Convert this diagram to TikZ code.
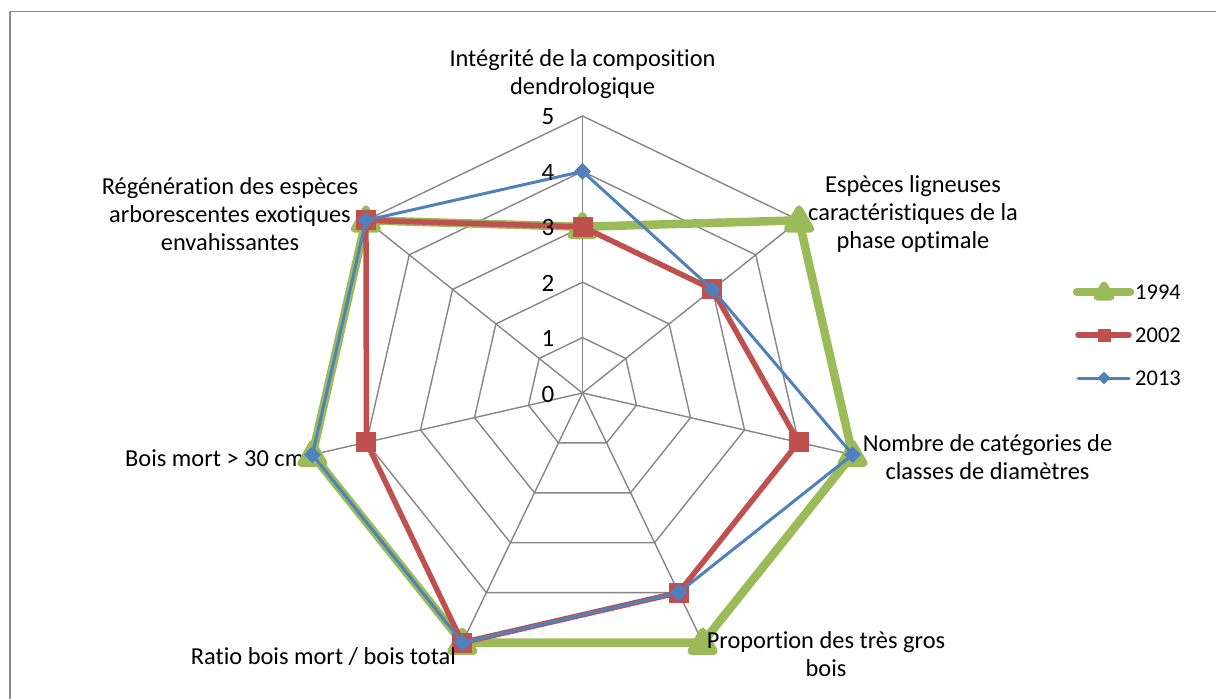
\documentclass[tikz,border=0pt]{standalone}
\usepackage{fontspec}
\setmainfont[Ligatures=CommonOff]{Carlito}
\usetikzlibrary{calc,shapes.geometric}
\definecolor{gridgray}{HTML}{868686}
\definecolor{framegray}{HTML}{8C8C8C}
\definecolor{sgreen}{HTML}{9BBB59}
\definecolor{sred}{HTML}{C0504D}
\definecolor{sblue}{HTML}{4F81BD}
\begin{document}
\begin{tikzpicture}[x=1pt,y=1pt,
  lbl/.style={font=\fontsize{24.4}{28.2}\selectfont, align=center, inner sep=0pt},
  tick/.style={font=\fontsize{25}{28}\selectfont, inner sep=0pt},
  leg/.style={font=\fontsize{22.5}{26}\selectfont, inner sep=0pt, anchor=west},
  grid/.style={draw=gridgray, line width=1.4},
  ser1994/.style={draw=sgreen, line width=8.5, line join=round, line cap=round},
  ser2002/.style={draw=sred, line width=5.5, line join=round, line cap=round},
  ser2013/.style={draw=sblue, line width=3, line join=round, line cap=round},
  tri/.style={regular polygon, regular polygon sides=3, fill=sgreen, draw=sgreen,
    line width=7, line join=round, inner sep=0pt, minimum size=#1},
  sq/.style={rectangle, fill=sred, inner sep=0pt, minimum size=#1},
  dia/.style={diamond, fill=sblue, inner sep=0pt, minimum size=#1}]
\useasboundingbox (0,0) rectangle (1216,-699);

% chart frame
\draw[framegray, line width=1.6] (10,-699) -- (10,-11.5) -- (1216,-11.5);

\coordinate (c) at (582.5,-393);

% web rings
\foreach \r in {1,...,5}
  \draw[grid] ($(c)+(90:\r*55.4)$)
    \foreach \k in {1,...,6} { -- ($(c)+({90-\k*360/7}:\r*55.4)$) } -- cycle;
% spokes
\foreach \k in {0,...,6}
  \draw[grid] (c) -- ($(c)+({90-\k*360/7}:277)$);

% data points
\foreach \v [count=\k from 0] in {3,5,5,5,5,5,5}
  \coordinate (g\k) at ($(c)+({90-\k*360/7}:\v*55.4)$);
\foreach \v [count=\k from 0] in {3,3,4,4,5,4,5}
  \coordinate (r\k) at ($(c)+({90-\k*360/7}:\v*55.4)$);
\foreach \v [count=\k from 0] in {4,3,5,4,5,5,5}
  \coordinate (b\k) at ($(c)+({90-\k*360/7}:\v*55.4)$);

% label partly hidden by the markers
\node[lbl, anchor=west] (l5) at (125,-458) {Bois mort > 30 cm};

% series 1994
\draw[ser1994] (g0) -- (g1) -- (g2) -- (g3) -- (g4) -- (g5) -- (g6) -- cycle;
\foreach \k in {0,...,6} \node[tri=27] (gm\k) at ($(g\k)+(0,-2)$) {};
% series 2002
\draw[ser2002] (r0) -- (r1) -- (r2) -- (r3) -- (r4) -- (r5) -- (r6) -- cycle;
\foreach \k in {0,...,6} \node[sq=20] (rm\k) at (r\k) {};
% series 2013
\draw[ser2013] (b0) -- (b1) -- (b2) -- (b3) -- (b4) -- (b5) -- (b6) -- cycle;
\foreach \k in {0,...,6} \node[dia=17] (bm\k) at (b\k) {};

% scale values
\foreach \v in {0,...,5}
  \node[tick] (t\v) at (548,{-393+\v*55.4-1}) {\v};

% category labels
\node[lbl] (l0) at (582.5,-74.5) {Intégrité de la composition\\dendrologique};
\node[lbl] (l1) at (913,-214) {Espèces ligneuses\\caractéristiques de la\\phase optimale};
\node[lbl] (l2) at (987.5,-457) {Nombre de catégories de\\classes de diamètres};
\node[lbl] (l3) at (826,-654) {Proportion des très gros\\bois};
\node[lbl] (l4) at (323.5,-657) {Ratio bois mort / bois total};
\node[lbl] (l6) at (230,-214) {Régénération des espèces\\arborescentes exotiques\\envahissantes};

% legend
\coordinate (lg1a) at (1077,-292); \coordinate (lg1b) at (1130,-292);
\coordinate (lg2a) at (1078,-335); \coordinate (lg2b) at (1129,-335);
\coordinate (lg3a) at (1078,-378); \coordinate (lg3b) at (1129,-378);
\draw[ser1994] (lg1a) -- (lg1b);
\node[tri=16] (lgm1) at (1104,-293) {};
\node[leg] (lt1) at (1135,-292) {1994};
\draw[ser2002] (lg2a) -- (lg2b);
\node[sq=13] (lgm2) at (1104,-335) {};
\node[leg] (lt2) at (1135,-335) {2002};
\draw[ser2013] (lg3a) -- (lg3b);
\node[dia=13] (lgm3) at (1104,-378) {};
\node[leg] (lt3) at (1135,-378) {2013};
\end{tikzpicture}
\end{document}
